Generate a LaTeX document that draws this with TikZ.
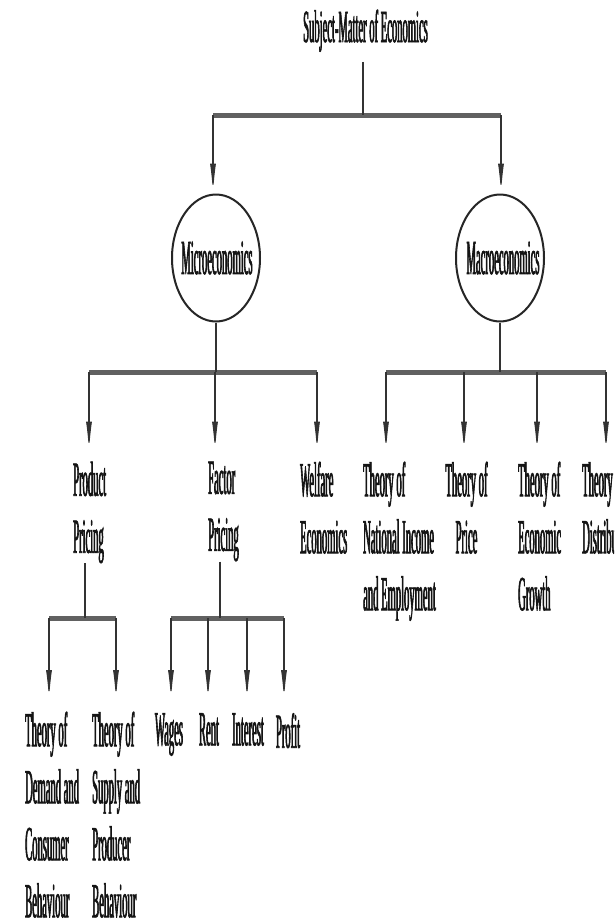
\documentclass[tikz,border=0pt]{standalone}
\usepackage{fontspec}
\setmainfont{Liberation Serif}
% tall, very narrow serif used for every label
\newfontfamily\condfont[FakeStretch=0.216, FakeBold=1.2]{Liberation Serif}
\newfontfamily\headfont[FakeStretch=0.230, FakeBold=1.2]{Liberation Serif}
\usetikzlibrary{arrows.meta,shapes.geometric}

\tikzset{
  txt/.style={font=\condfont\fontsize{49}{57}\selectfont, inner sep=0pt, text=black!92},
  link/.style={line width=1.2pt, draw=black!80},
  arr/.style={link, -{Latex[length=30pt,width=6pt]}},
  gap/.style={shorten >=#1},
  bar/.style={line width=5pt, draw=black!62},
  bubble/.style={ellipse, draw=black!85, line width=2pt,
    minimum width=88pt, minimum height=127pt, inner sep=0pt},
}

\begin{document}
\begin{tikzpicture}[x=1pt,y=-1pt]
\useasboundingbox (0,0) rectangle (614,919);
\clip (0,0) rectangle (614,919);
\fill[white] (0,0) rectangle (614,919);

% ---- top level
\node[txt, font=\headfont\fontsize{46}{52}\selectfont, anchor=base, inner ysep=10pt]
  (title) at (365.5,42) {Subject-Matter of Economics};

\coordinate (b1L) at (213,115);
\coordinate (b1M) at (363,115);
\coordinate (b1R) at (501,115);
\draw[bar] (b1L) -- (b1R);
\draw[link] (title.south -| b1M) -- (b1M);

\node[bubble] (micro) at (216,258) {};
\node[txt] (microlbl) at (217,258) {Microeconomics};
\node[bubble] (macro) at (500,258) {};
\node[txt] (macrolbl) at (503,258) {Macroeconomics};

\draw[arr] (b1L) -- (b1L |- micro.north);
\draw[arr] (b1R) -- (b1R |- macro.north);

% ---- second level
\coordinate (b2L) at (89,372);
\coordinate (b2M) at (215,372);
\coordinate (b2R) at (317,372);
\coordinate (b3L) at (386,372);
\coordinate (b3a) at (464,372);
\coordinate (b3M) at (500,372);
\coordinate (b3b) at (537,372);
\coordinate (b3R) at (606,372);

\draw[bar] (b2L) -- (b2R);
\draw[bar] (b3L) -- (b3R);
\draw[link] (micro.south) -- (micro.south |- b2M);
\draw[link] (macro.south) -- (macro.south |- b3M);

\node[txt, align=left, anchor=north west] (prod) at (73,461.5) {Product\\Pricing};
\node[txt, align=left, anchor=north west] (factor) at (208,461.5) {Factor\\Pricing};
\node[txt, align=left, anchor=north west] (welfare) at (300,461.5) {Welfare\\Economics};
\node[txt, align=left, anchor=north west] (natinc) at (363,461.5) {Theory of\\National Income\\and Employment};
\node[txt, align=center, anchor=north] (price) at (466.5,461.5) {Theory of\\Price};
\node[txt, align=left, anchor=north west] (growth) at (518,461.5) {Theory of\\Economic\\Growth};
\node[txt, align=left, anchor=north west] (distr) at (582,461.5) {Theory of\\Distribution};

\draw[arr, gap=10pt] (b2L) -- (b2L |- prod.north);
\draw[arr, gap=10pt] (b2M) -- (b2M |- factor.north);
\draw[arr, gap=10pt] (b2R) -- (b2R |- welfare.north);
\draw[arr, gap=10pt] (b3L) -- (b3L |- natinc.north);
\draw[arr, gap=10pt] (b3a) -- (b3a |- price.north);
\draw[arr, gap=10pt] (b3b) -- (b3b |- growth.north);
\draw[arr, gap=10pt] (b3R) -- (b3R |- distr.north);

% ---- third level
\coordinate (b4L) at (49,618);
\coordinate (b4M) at (85,618);
\coordinate (b4R) at (116,618);
\coordinate (b5L) at (171,618);
\coordinate (b5a) at (208,618);
\coordinate (b5M) at (220,618);
\coordinate (b5b) at (247,618);
\coordinate (b5R) at (284,618);

\draw[bar] (b4L) -- (b4R);
\draw[bar] (b5L) -- (b5R);
\draw[link] (prod.south -| b4M) -- (b4M);
\draw[link] (factor.south -| b5M) -- (b5M);

\node[txt, align=left, anchor=north west] (demand) at (25,711.5) {Theory of\\Demand and\\Consumer\\Behaviour};
\node[txt, align=left, anchor=north west] (supply) at (92,711.5) {Theory of\\Supply and\\Producer\\Behaviour};
\node[txt, anchor=north] (wages) at (169,713) {Wages};
\node[txt, anchor=north] (rent) at (209,713) {Rent};
\node[txt, anchor=north] (interest) at (248,713) {Interest};
\node[txt, anchor=north] (profit) at (288,713) {Profit};

\draw[arr, gap=11.5pt] (b4L) -- (b4L |- demand.north);
\draw[arr, gap=11.5pt] (b4R) -- (b4R |- supply.north);
\draw[arr, gap=13pt] (b5L) -- (b5L |- wages.north);
\draw[arr, gap=13pt] (b5a) -- (b5a |- rent.north);
\draw[arr, gap=13pt] (b5b) -- (b5b |- interest.north);
\draw[arr, gap=13pt] (b5R) -- (b5R |- profit.north);
\end{tikzpicture}
\end{document}
